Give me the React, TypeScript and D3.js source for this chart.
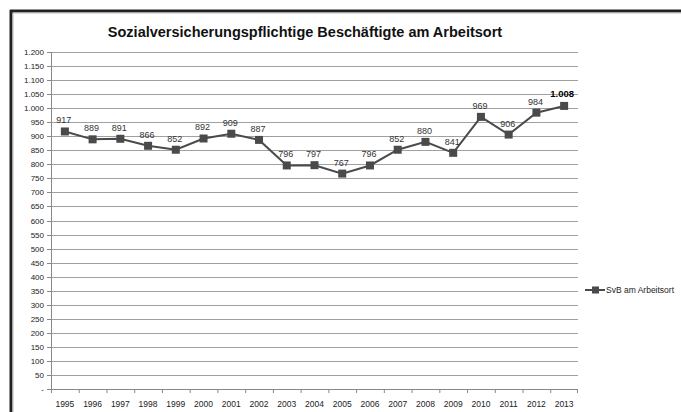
import React from "react";
import * as d3 from "d3";

const years = ["1995", "1996", "1997", "1998", "1999", "2000", "2001", "2002", "2003", "2004", "2005", "2006", "2007", "2008", "2009", "2010", "2011", "2012", "2013"];
const svbValues = [917, 889, 891, 866, 852, 892, 909, 887, 796, 797, 767, 796, 852, 880, 841, 969, 906, 984, 1008];
const yTicks = d3.range(0, 1201, 50);

const title = "Sozialversicherungspflichtige Beschäftigte am Arbeitsort";
const seriesName = "SvB am Arbeitsort";

const fmt = (v: number) => {
  if (v === 0) return "-";
  const s = String(v);
  return s.length > 3 ? s.slice(0, s.length - 3) + "." + s.slice(-3) : s;
};

export default function App() {
  const W = 681, H = 412;
  const left = 51, right = 578, top = 52, bottom = 389;
  const x = d3.scaleBand<string>().domain(years).range([left, right]);
  const y = d3.scaleLinear().domain([0, 1200]).range([bottom, top]);
  const cx = (d: string) => (x(d) ?? 0) + x.bandwidth() / 2;
  const pts: [number, number][] = years.map((yr, i) => [cx(yr), y(svbValues[i])]);
  const line = d3.line()(pts) ?? "";
  const font = "'Liberation Sans', Arial, sans-serif";
  const lineColor = "#4a4a4a";

  return (
    <svg width={W} height={H} style={{ position: "absolute", left: 0, top: 0, background: "#fff" }} fontFamily={font}>
      {/* frame */}
      <rect x={0} y={0} width={W} height={H} fill="#fff" />
      <line x1={10} x2={W} y1={11} y2={11} stroke="#222" strokeWidth={3} />
      <line x1={10} x2={W} y1={13} y2={13} stroke="#bbb" strokeWidth={1} />
      <line x1={11} x2={11} y1={10} y2={H} stroke="#222" strokeWidth={3} />
      <line x1={13} x2={13} y1={13} y2={H} stroke="#bbb" strokeWidth={1} />

      <text x={305} y={37} textAnchor="middle" fontSize={14.5} fontWeight="bold" fill="#111">{title}</text>

      {/* grid + y axis */}
      {yTicks.map(t => (
        <g key={t}>
          {t > 0 && <line x1={left} x2={right} y1={Math.round(y(t)) + 0.5} y2={Math.round(y(t)) + 0.5} stroke="#a0a0a0" strokeWidth={1} />}
          <line x1={left - 4} x2={left} y1={Math.round(y(t)) + 0.5} y2={Math.round(y(t)) + 0.5} stroke="#888" />
          <text x={44} y={y(t) + 3} textAnchor="end" fontSize={8} fill="#222">{fmt(t)}</text>
        </g>
      ))}
      <line x1={left + 0.5} x2={left + 0.5} y1={top} y2={bottom} stroke="#888" />
      <line x1={left} x2={right} y1={bottom + 0.5} y2={bottom + 0.5} stroke="#888" />
      {years.map((yr, i) => (
        <g key={yr}>
          <line x1={(x(yr) ?? 0) + 0.5} x2={(x(yr) ?? 0) + 0.5} y1={bottom} y2={bottom + 4} stroke="#888" />
          {i === years.length - 1 && <line x1={right - 0.5} x2={right - 0.5} y1={bottom} y2={bottom + 4} stroke="#888" />}
          <text x={cx(yr)} y={bottom + 18} textAnchor="middle" fontSize={8.5} fill="#222">{yr}</text>
        </g>
      ))}

      {/* series */}
      <path d={line} fill="none" stroke={lineColor} strokeWidth={2} />
      {pts.map(([px, py], i) => (
        <g key={i}>
          <rect x={px - 4} y={py - 4} width={8} height={8} fill={lineColor} />
          {i === pts.length - 1 ? (
            <text x={px - 2} y={py - 9} textAnchor="middle" fontSize={9.5} fontWeight="bold" fill="#000">{fmt(svbValues[i])}</text>
          ) : (
            <text x={px - 1} y={py - 8} textAnchor="middle" fontSize={9} fill="#333">{fmt(svbValues[i])}</text>
          )}
        </g>
      ))}

      {/* legend */}
      <line x1={585} x2={605} y1={290} y2={290} stroke={lineColor} strokeWidth={2} />
      <rect x={592} y={286.5} width={7} height={7} fill={lineColor} />
      <text x={606} y={293} fontSize={8.5} fill="#222">{seriesName}</text>
    </svg>
  );
}
